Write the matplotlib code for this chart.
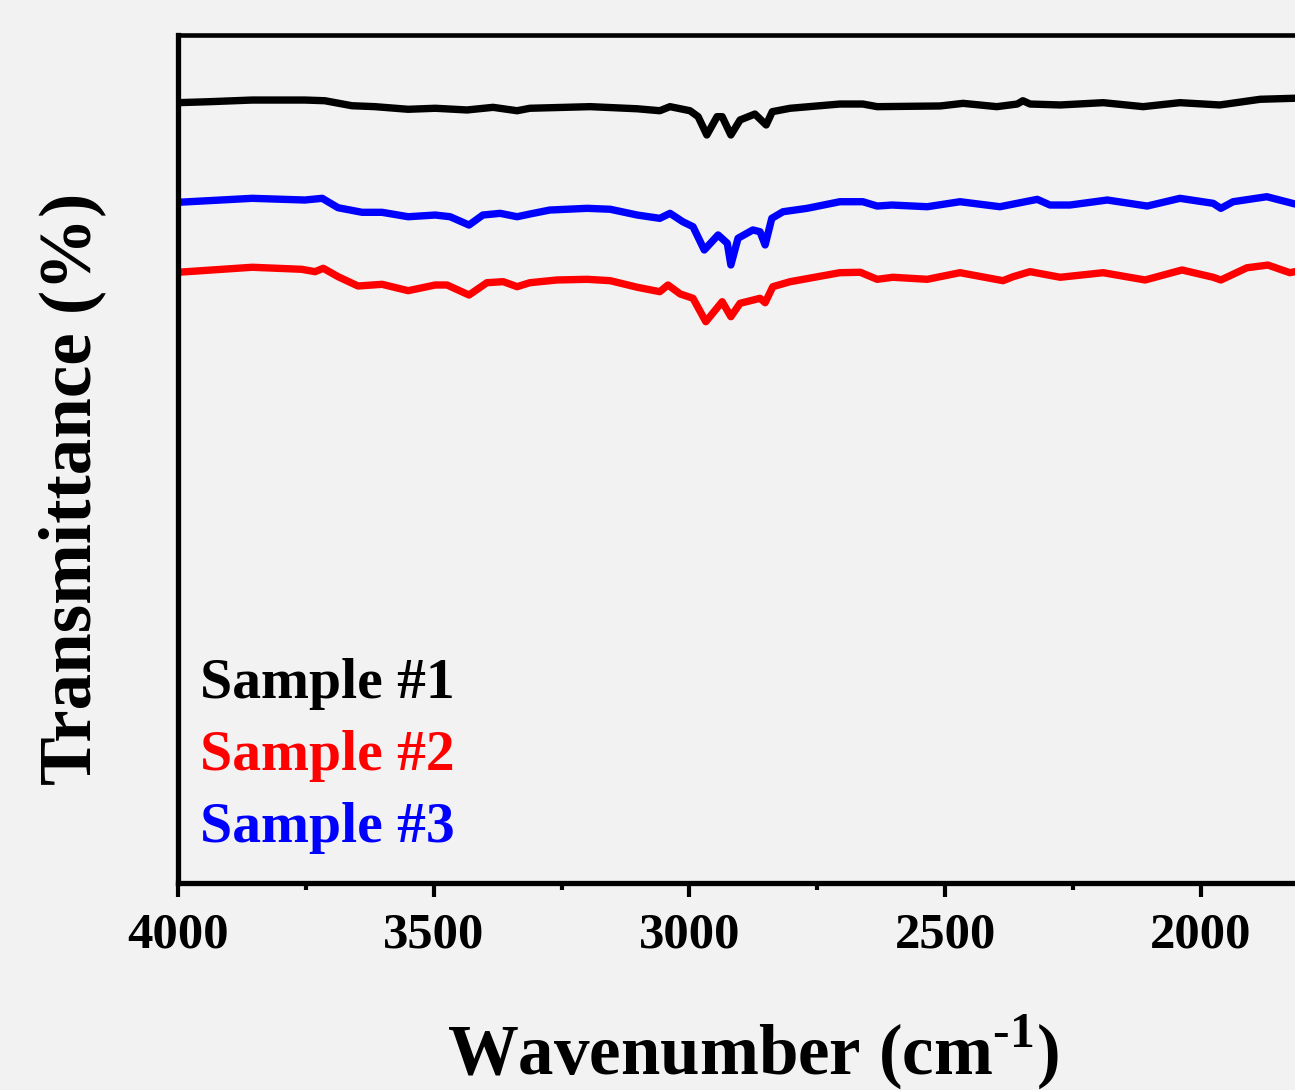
import numpy as np
import matplotlib
matplotlib.use('Agg')
import matplotlib.pyplot as plt
from matplotlib.ticker import MultipleLocator

plt.rcParams['font.family'] = 'Liberation Serif'
plt.rcParams['font.weight'] = 'bold'
plt.rcParams['mathtext.fontset'] = 'custom'
plt.rcParams['mathtext.rm'] = 'Liberation Serif:bold'
plt.rcParams['mathtext.bf'] = 'Liberation Serif:bold'

# Spectres (nombre d'onde en cm-1, transmittance en unités arbitraires)
wn_1 = [4000, 3941, 3855, 3752, 3713, 3660, 3615, 3550, 3497, 3435, 3384, 3337, 3312,
        3194, 3102, 3058, 3038, 2999, 2983, 2966, 2946, 2936, 2919, 2901, 2872, 2850,
        2838, 2803, 2706, 2661, 2633, 2510, 2465, 2399, 2359, 2348, 2334, 2275, 2191,
        2113, 2041, 1963, 1884, 1816]
t_1 = [92.02, 92.13, 92.33, 92.33, 92.25, 91.66, 91.55, 91.24, 91.36, 91.16, 91.47, 91.07, 91.36,
       91.55, 91.30, 91.07, 91.55, 91.07, 90.37, 88.21, 90.37, 90.37, 88.21, 89.98, 90.68, 89.39,
       90.96, 91.36, 91.86, 91.86, 91.55, 91.63, 91.94, 91.55, 91.86, 92.25, 91.86, 91.75, 92.02,
       91.55, 92.02, 91.75, 92.42, 92.54]

wn_2 = [4000, 3855, 3758, 3732, 3716, 3687, 3648, 3601, 3550, 3497, 3474, 3431, 3396,
        3364, 3337, 3312, 3259, 3200, 3155, 3102, 3058, 3042, 3018, 2993, 2968, 2936,
        2919, 2901, 2862, 2852, 2837, 2803, 2706, 2666, 2633, 2602, 2535, 2471, 2387,
        2367, 2334, 2275, 2191, 2109, 2037, 1976, 1961, 1910, 1869, 1826, 1816]
t_2 = [72.02, 72.61, 72.37, 72.09, 72.49, 71.50, 70.40, 70.60, 69.85, 70.52, 70.52, 69.34, 70.79,
       70.91, 70.32, 70.79, 71.11, 71.19, 71.03, 70.25, 69.73, 70.52, 69.46, 68.95, 66.19, 68.55,
       66.78, 68.36, 68.95, 68.43, 70.32, 70.91, 71.97, 72.02, 71.19, 71.43, 71.19, 71.97, 71.03,
       71.50, 72.09, 71.43, 71.97, 71.11, 72.29, 71.43, 71.11, 72.55, 72.87, 71.97, 72.09]

wn_3 = [4000, 3855, 3752, 3718, 3687, 3640, 3601, 3550, 3497, 3468, 3431, 3404, 3370,
        3337, 3312, 3273, 3200, 3155, 3102, 3058, 3038, 3013, 2993, 2971, 2944, 2926,
        2919, 2905, 2876, 2862, 2852, 2839, 2817, 2770, 2706, 2661, 2633, 2604, 2535,
        2471, 2393, 2320, 2295, 2256, 2183, 2105, 2041, 1976, 1961, 1937, 1871, 1816]
t_3 = [80.27, 80.74, 80.54, 80.74, 79.63, 79.09, 79.09, 78.57, 78.77, 78.57, 77.59, 78.77, 78.97,
       78.57, 78.89, 79.36, 79.56, 79.45, 78.77, 78.38, 78.97, 77.98, 77.39, 74.65, 76.42, 75.44,
       72.88, 76.03, 77.01, 76.80, 75.24, 78.38, 79.16, 79.56, 80.34, 80.34, 79.83, 79.95, 79.75,
       80.34, 79.75, 80.62, 79.95, 79.95, 80.54, 79.83, 80.74, 80.15, 79.56, 80.34, 80.93, 80.07]

labels = ['Sample #1', 'Sample #2', 'Sample #3']
colors = ['black', 'red', 'blue']

bg = '#f2f2f2'
fig = plt.figure(figsize=(12.95, 10.9), dpi=100, facecolor=bg)
ax = fig.add_axes([178/1295, 207/1090, 1117/1295, 848/1090])
ax.set_facecolor(bg)

ax.plot(wn_1, t_1, color='black', lw=5.3, solid_joinstyle='round', solid_capstyle='round')
ax.plot(wn_3, t_3, color='blue', lw=5.3, solid_joinstyle='round', solid_capstyle='round')
ax.plot(wn_2, t_2, color='red', lw=5.3, solid_joinstyle='round', solid_capstyle='round')

ax.set_xlim(4000, 1816)
ax.set_ylim(0, 100)
ax.xaxis.set_major_locator(MultipleLocator(500))
ax.xaxis.set_minor_locator(MultipleLocator(250))
ax.set_yticks([])
ax.tick_params(axis='x', which='major', direction='out', length=10, width=3,
               labelsize=36.5, pad=11)
ax.tick_params(axis='x', which='minor', direction='out', length=5, width=3)
for lab in ax.get_xticklabels():
    lab.set_fontweight('bold')

ax.spines['right'].set_visible(False)
ax.spines['left'].set_linewidth(3.8)
ax.spines['bottom'].set_linewidth(3.8)
ax.spines['top'].set_linewidth(3.3)

# Légende écrite à la main, en couleur
ys = [0.218, 0.133, 0.048]
for lab, c, y in zip(labels, colors, ys):
    ax.text(0.02, y, lab, color=c, fontsize=41.5, fontweight='bold',
            transform=ax.transAxes, va='baseline', ha='left')

fig.text(0.0556, 0.552, 'Transmittance (%)', rotation=90, fontsize=52.5,
         fontweight='bold', ha='center', va='center')
fig.text(0.581, 0.014, r'Wavenumber (cm$^{\text{-1}}$)', fontsize=51,
         fontweight='bold', ha='center', va='baseline')

fig.savefig('out.png', dpi=100, facecolor=bg)
